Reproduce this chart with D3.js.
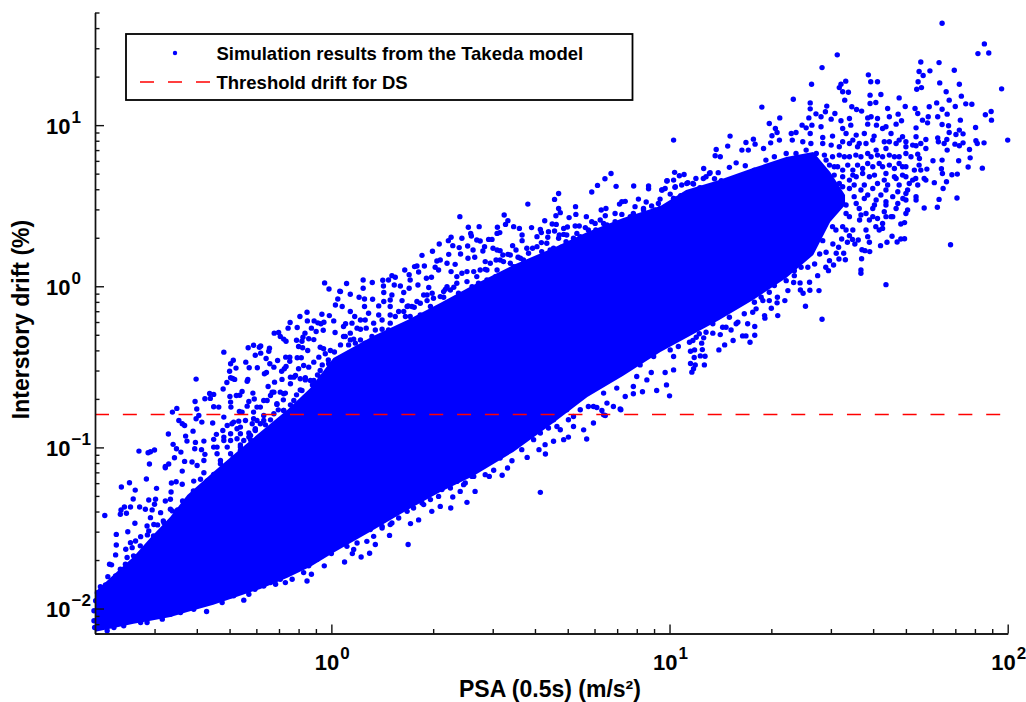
<!DOCTYPE html>
<html>
<head>
<meta charset="utf-8">
<script src="https://cdn.jsdelivr.net/npm/d3@7"></script>
<style>
  body { margin: 0; background: #fff; }
  text { font-family: "Liberation Sans", Arial, sans-serif; font-weight: bold; fill: #000; }
</style>
</head>
<body>
<svg id="chart"></svg>
<script>
// all values are log10 of the axis value
const thresholdDrift = 0.16;

// solid part of the cloud: log10 PSA with upper and lower log10 drift
const corePsa = [-0.698,-0.644,-0.585,-0.535,-0.476,-0.426,-0.349,-0.290,-0.210,-0.130,-0.062,0.006,0.124,0.225,0.322,0.420,0.538,0.656,0.757,0.863,0.973,1.049,1.147,1.247,1.345,1.425,1.475,1.519];
const coreUpper = [-1.896,-1.791,-1.679,-1.561,-1.431,-1.295,-1.152,-1.047,-0.904,-0.767,-0.631,-0.445,-0.308,-0.209,-0.104,0.008,0.132,0.238,0.337,0.424,0.498,0.597,0.659,0.734,0.802,0.833,0.709,0.566];
const coreLower = [-2.144,-2.120,-2.095,-2.076,-2.052,-2.021,-1.977,-1.934,-1.878,-1.809,-1.741,-1.654,-1.512,-1.388,-1.276,-1.177,-1.028,-0.848,-0.687,-0.556,-0.408,-0.321,-0.209,-0.085,0.051,0.194,0.399,0.504];

// separate dots, [log10 PSA, log10 drift]
const upperLeftDots = [[-.020,.021],[-.007,-.017],[.025,-.031],[.019,-.079],[.012,-.116],[-.072,-.161],[-.093,-.188],[-.028,-.174],[-.006,-.182],[-.071,-.215],[-.122,-.225],[-.051,-.215],[-.040,-.227],[-.031,-.233],[-.022,-.223],[.007,-.215],[-.101,-.256],[-.128,-.260],[-.059,-.260],[-.045,-.281],[-.024,-.273],[.011,-.287],[-.169,-.291],[-.156,-.287],[-.151,-.312],[-.141,-.328],[-.134,-.341],[-.078,-.291],[-.084,-.316],[-.103,-.335],[-.087,-.341],[-.067,-.326],[-.052,-.331],[-.033,-.378],[-.023,-.388],[-.097,-.374],[-.085,-.382],[-.070,-.399],[-.230,-.366],[-.246,-.382],[-.213,-.378],[-.209,-.370],[-.183,-.384],[-.185,-.403],[-.318,-.409],[-.209,-.415],[-.225,-.428],[-.193,-.448],[-.253,-.471],[-.290,-.459],[-.298,-.481],[-.282,-.508],[-.301,-.527],[-.243,-.506],[-.219,-.506],[-.182,-.481],[-.159,-.461],[-.135,-.440],[-.123,-.440],[-.101,-.444],[-.089,-.444],[-.123,-.465],[-.170,-.502],[-.198,-.543],[-.192,-.535],[-.139,-.512],[-.134,-.498],[-.147,-.527],[-.400,-.576],[-.247,-.578],[-.249,-.589],[-.292,-.572],[-.298,-.568],[-.286,-.578],[-.309,-.597],[-.168,-.595],[-.146,-.578],[-.187,-.622],[-.232,-.663],[-.264,-.653],[-.271,-.676],[-.281,-.678],[-.300,-.684],[-.320,-.638],[-.298,-.719],[-.360,-.665],[-.348,-.671],[-.358,-.696],[-.374,-.698],[-.403,-.715],[-.398,-.762],[-.348,-.748],[-.333,-.750],[-.297,-.750],[-.272,-.777],[-.244,-.715],[-.228,-.700],[-.249,-.744],[-.220,-.750],[-.170,-.657],[-.151,-.657],[-.136,-.663],[-.200,-.709],[-.180,-.678],[-.121,-.564],[-.106,-.554],[-.092,-.574],[-.077,-.568],[-.052,-.585],[-.033,-.564],[-.470,-.781],[-.457,-.758],[-.392,-.802],[-.400,-.822],[-.383,-.843],[-.351,-.849],[-.451,-.833],[-.441,-.853],[-.434,-.864],[-.482,-.917],[-.431,-.930],[-.468,-.981],[-.458,-1.008],[-.445,-1.029],[-.569,-1.023],[-.542,-1.033],[-.535,-1.027],[-.523,-1.016],[-.538,-1.103],[-.464,-1.064],[-.434,-1.087],[-.481,-1.103],[-.491,-1.118],[-.409,-.899],[-.427,-.961],[-.402,-.969],[-.377,-.961],[-.404,-1.008],[-.384,-1.014],[-.348,-.950],[-.340,-.919],[-.374,-1.043],[-.338,-1.039],[-.377,-1.081],[-.412,-1.091],[-.397,-1.112],[-.328,-1.081],[-.318,-.812],[-.289,-.843],[-.274,-.837],[-.264,-.781],[-.230,-.822],[-.220,-.833],[-.234,-.853],[-.210,-.853],[-.200,-.802],[-.161,-.733],[-.141,-.771],[-.321,-.895],[-.308,-.864],[-.294,-.853],[-.279,-.884],[-.269,-.915],[-.244,-.911],[-.225,-.884],[-.318,-.936],[-.298,-.957],[-.279,-.946],[-.259,-.957],[-.239,-.926],[-.348,-.998],[-.308,-.998],[-.269,-1.019],[-.244,-.998],[-.328,-1.101]];

const lowerLeftDots = [[-.621,-1.246],[-.597,-1.219],[-.580,-1.265],[-.547,-1.196],[-.517,-1.254],[-.473,-1.221],[-.459,-1.213],[-.441,-1.229],[-.407,-1.209],[-.387,-1.198],[-.377,-1.157],[-.348,-1.168],[-.441,-1.147],[-.491,-1.126],[-.586,-1.320],[-.540,-1.326],[-.520,-1.322],[-.474,-1.277],[-.491,-1.333],[-.476,-1.322],[-.612,-1.370],[-.622,-1.388],[-.624,-1.415],[-.594,-1.370],[-.567,-1.370],[-.606,-1.409],[-.670,-1.423],[-.550,-1.384],[-.530,-1.388],[-.523,-1.353],[-.535,-1.436],[-.581,-1.471],[-.545,-1.488],[-.505,-1.405],[-.476,-1.384],[-.602,-1.523],[-.636,-1.540],[-.540,-1.519],[-.525,-1.478],[-.495,-1.467],[-.564,-1.554],[-.579,-1.581],[-.636,-1.606],[-.594,-1.591],[-.608,-1.632],[-.638,-1.667],[-.589,-1.622],[-.545,-1.622],[-.656,-1.725],[-.650,-1.729],[-.604,-1.683],[-.575,-1.679],[-.609,-1.725],[-.624,-1.756],[-.661,-1.802],[-.638,-1.798],[-.589,-1.725],[-.663,-2.138],[-.500,-2.066],[-.369,-2.018],[-.259,-1.948],[-.226,-1.880],[-.136,-1.839],[-.072,-1.829],[-.059,-1.787],[-.021,-1.735],[0,-1.659],[-.082,-1.777],[-.244,-1.911],[-.323,-1.963],[-.446,-2.025],[-.165,-1.849],[-.116,-1.818],[-.702,-2.076],[-.702,-2.014],[-.697,-1.952],[-.700,-2.118]];

const middleUpperDots = [[.380,.432],[.581,.510],[.672,.576],[.660,.539],[.672,.483],[.664,.438],[.677,.457],[.722,.494],[.723,.446],[.770,.585],[.787,.626],[.842,.620],[.894,.622],[.938,.622],[.938,.605],[.977,.597],[.992,.653],[1.017,.618],[1.002,.572],[.908,.541],[.931,.523],[.869,.527],[.859,.525],[.852,.510],[.812,.483],[.798,.473],[.947,.498],[.967,.514],[1.012,.545],[.898,.494],[.923,.483],[.957,.473],[.839,.452],[.859,.446],[.810,.438],[.754,.432],[.703,.426],[.511,.442],[.522,.407],[.515,.384],[.539,.370],[.556,.359],[.592,.364],[.437,.370],[.405,.366],[.491,.366],[.631,.407],[.653,.386],[.665,.384],[.660,.343],[.687,.359],[.698,.368],[.721,.374],[.733,.374],[.751,.364],[.782,.349],[.770,.401],[.795,.411],[.780,.390],[.815,.380],[.834,.359],[.864,.370],[.618,.353],[.621,.333],[.642,.339],[.674,.318],[.687,.322],[.608,.308],[.621,.271],[.640,.304],[.564,.318],[.564,.283],[.490,.328],[.498,.333],[.412,.328],[.414,.312],[.386,.298],[.354,.304],[.346,.283],[.319,.262],[.359,.252],[.378,.240],[.403,.250],[.419,.225],[.430,.287],[.440,.281],[.465,.291],[.475,.291],[.453,.246],[.448,.219],[.299,.217],[.268,.192],[.347,.198],[.382,.200],[.404,.174],[.424,.180],[.478,.236],[.490,.225],[.499,.221],[.507,.194],[.522,.198],[.536,.252],[.546,.225],[.552,.180],[.583,.205],[.595,.236],[.622,.215],[.647,.225],[.694,.277],[.716,.298],[.680,.242],[.657,.236],[.736,.308],[.322,.163],[.312,.157],[.342,.143],[.366,.136],[.275,.126],[.253,.126],[.246,.122],[.217,.101],[.230,.072],[.258,.089],[.307,.118],[.317,.101],[.354,.091],[.386,.081],[.421,.091],[.455,.153],[.455,.105],[.487,.163],[.509,.153],[.539,.122],[.568,.163],[.179,.066],[.189,.056],[.152,.037],[.169,.039],[.094,.039],[.121,.023],[.045,.017],[.094,-.012],[.154,.002],[.186,.008],[.204,.002],[.233,.039],[.281,.050],[.296,.056],[.155,-.039],[.056,-.050],[.027,-.033],[.082,-.068],[.098,-.079],[.122,-.081],[.214,-.039],[.230,-.012],[.256,.008],[.288,-.008],[.337,-.019],[.362,-.006],[.179,-.054],[.174,-.085],[.209,-.089],[.227,-.122],[.245,-.130],[.155,-.095],[.140,-.122],[.098,-.126],[.056,-.157],[.069,-.188],[.086,-.209],[.100,-.209],[.110,-.167],[.140,-.178],[.174,-.126],[.189,-.188],[.219,-.188],[.233,-.188],[.283,-.089],[.302,-.074],[.332,-.068],[.032,-.126],[.042,-.233],[.061,-.229],[.086,-.267],[.103,-.260],[.130,-.271],[.150,-.267],[.174,-.229],[.229,-.250],[.263,-.178],[.293,-.126],[.036,-.312],[.066,-.328],[1.012,.907],[.827,.700],[.809,.667],[1.015,.707],[1.043,.694],[1.029,.686],[.993,.655],[1.012,.659],[1.120,.705],[1.051,.638],[1.071,.634],[1.036,.628],[1.016,.614],[.987,.607],[.978,.597],[1.100,.669],[1.133,.667],[1.153,.655],[1.090,.612],[1.033,.562],[1.059,.576],[.972,.541],[1.012,.545],[1.046,.535],[1.115,.576],[1.079,.552]];

const middleLowerDots = [[1.000,-.680],[.991,-.612],[.962,-.647],[.920,-.655],[.893,-.667],[.869,-.684],[.854,-.762],[.800,-.771],[.785,-.752],[.987,-.535],[1.012,-.519],[.946,-.535],[.933,-.581],[.903,-.560],[.893,-.622],[.844,-.632],[.805,-.663],[.760,-.746],[.227,-1.603],[.618,-1.279],[.113,-1.657],[.088,-1.680],[.039,-1.711],[.062,-1.659],[.172,-1.546],[.234,-1.473],[.258,-1.450],[.353,-1.376],[.401,-1.341],[.425,-1.273],[.505,-1.173],[.467,-1.180],[.521,-1.128],[.534,-1.083],[.579,-1.062],[.633,-1.041],[.563,-1.014],[.614,-1.014],[.701,-.936],[.755,-.948],[.775,-.849],[.746,-.891],[.856,-.766],[.810,-.802],[.687,-.952],[.657,-.962],[.632,-.983],[.480,-1.142],[.455,-1.169],[.381,-1.273],[.359,-1.308],[.322,-1.366],[.297,-1.397],[.130,-1.603],[.066,-1.634],[.174,-1.479],[.150,-1.500],[.273,-1.355],[.421,-1.180],[.391,-1.231],[.598,-.952],[.677,-.890],[.716,-.870]];

const upperRightDots = [[1.806,1.632],[1.931,1.504],[1.912,1.444],[1.944,1.448],[1.496,1.436],[1.451,1.357],[1.743,1.392],[1.797,1.388],[1.842,1.341],[1.738,1.333],[1.750,1.308],[1.770,1.337],[1.588,1.312],[1.595,1.269],[1.615,1.269],[1.735,1.269],[1.799,1.262],[1.857,1.254],[1.420,1.254],[1.521,1.273],[1.507,1.254],[1.502,1.233],[1.529,1.204],[1.512,1.207],[1.731,1.223],[1.745,1.233],[1.982,1.225],[1.818,1.207],[1.625,1.190],[1.593,1.186],[1.863,1.180],[1.827,1.155],[1.679,1.169],[1.366,1.161],[1.518,1.155],[1.416,1.138],[1.876,1.132],[1.894,1.130],[1.845,1.116],[1.790,1.138],[1.768,1.114],[1.806,1.099],[1.273,1.112],[1.593,1.134],[1.610,1.140],[1.697,1.116],[1.645,1.103],[1.726,1.103],[1.539,1.114],[1.553,1.097],[1.568,1.087],[1.465,1.118],[1.416,1.101],[1.461,1.083],[1.489,1.072],[1.433,1.070],[1.951,1.085],[1.934,1.064],[1.952,1.031],[1.821,1.068],[1.860,1.031],[1.793,1.052],[1.765,1.052],[1.748,1.031],[1.734,1.072],[1.676,1.068],[1.650,1.052],[1.596,1.052],[1.615,1.041],[1.586,1.045],[1.326,1.045],[1.412,1.045],[1.448,1.052],[1.478,1.037],[1.507,1.027],[1.532,1.041],[1.295,1.010],[1.421,1.000],[1.392,1.000],[1.448,.990],[1.806,1.004],[1.825,.996],[1.905,.985],[1.763,1.014],[1.729,.983],[1.686,1.027],[1.670,1.006],[1.640,.990],[1.612,1.000],[1.586,1.006],[1.536,1.000],[1.512,.979],[1.482,.932],[1.179,.932],[1.313,.979],[1.318,.954],[1.374,.954],[1.360,.948],[1.416,.948],[1.404,.983],[1.303,.934],[1.248,.913],[1.226,.892],[1.172,.870],[1.138,.849],[1.135,.810],[1.150,.804],[1.253,.882],[1.214,.845],[1.233,.845],[1.278,.855],[1.325,.907],[1.299,.890],[1.363,.907],[1.394,.897],[1.418,.886],[1.453,.923],[1.857,.969],[1.868,.946],[1.847,.942],[1.827,.954],[1.793,.921],[1.758,.911],[1.729,.928],[1.689,.928],[1.655,.948],[1.630,.979],[1.605,.932],[1.576,.948],[1.552,.938],[1.522,.948],[1.906,.903],[1.930,.890],[1.910,.886],[2.000,.907],[1.844,.882],[1.857,.872],[1.868,.890],[1.820,.911],[1.812,.886],[1.795,.897],[1.821,.845],[1.887,.849],[1.758,.855],[1.729,.872],[1.699,.866],[1.670,.886],[1.635,.897],[1.640,.855],[1.611,.845],[1.581,.886],[1.556,.866],[1.532,.886],[1.502,.866],[1.478,.876],[1.734,.820],[1.889,.797],[1.779,.779],[1.806,.783],[1.855,.779],[1.738,.752],[1.699,.824],[1.665,.804],[1.630,.804],[1.596,.804],[1.566,.804],[1.532,.804],[1.502,.814],[1.883,.740],[1.925,.733],[1.804,.729],[1.807,.700],[1.761,.727],[1.724,.721],[1.689,.742],[1.665,.731],[1.630,.742],[1.601,.742],[1.571,.731],[1.542,.721],[1.512,.721],[1.835,.692],[1.851,.696],[1.728,.669],[1.753,.669],[1.783,.643],[1.819,.649],[1.699,.680],[1.670,.669],[1.635,.659],[1.591,.680],[1.552,.680],[1.809,.607],[1.704,.597],[1.675,.587],[1.640,.597],[1.601,.607],[1.566,.597],[1.532,.607],[1.797,.539],[1.850,.548],[1.729,.556],[1.690,.545],[1.640,.525],[1.611,.535],[1.576,.545],[1.792,.490],[1.753,.486],[1.704,.473],[1.670,.483],[1.635,.463],[1.601,.483],[1.699,.452],[1.695,.395],[1.684,.386],[1.630,.359],[1.620,.349],[1.591,.411],[1.562,.411],[1.512,.370],[1.492,.349],[1.542,.349],[1.472,.432],[1.492,.494],[1.522,.452],[1.453,.535],[1.463,.783],[1.487,.742],[1.473,.659],[1.463,.597],[1.502,.638],[1.532,.659],[1.487,.556],[1.512,.514],[1.552,.514],[1.453,.452],[1.581,.452],[1.615,.421],[1.655,.432],[1.101,.731],[1.118,.700],[1.144,.705],[1.177,.738],[1.197,.766],[1.224,.748],[1.251,.721],[1.285,.783],[1.310,.804],[1.345,.824],[1.374,.824],[1.404,.845],[1.434,.824],[1.054,.643],[1.078,.669],[1.069,.638],[1.108,.680],[1.088,.597],[1.138,.576],[1.177,.659],[1.216,.659],[1.256,.700],[1.295,.742],[1.330,.762],[1.363,.773],[1.398,.793],[1.433,.783]];

// rows of dots in the loose right end of the cloud
const rightCloudDots = [[1.453,.886],[1.512,.897],[1.542,.907],[1.561,.886],[1.601,.907],[1.650,.897],[1.679,.907],[1.699,.897],[1.719,.876],[1.743,.886],[1.458,.814],[1.482,.804],[1.517,.804],[1.551,.814],[1.586,.824],[1.615,.814],[1.650,.814],[1.679,.804],[1.714,.804],[1.739,.793],[1.473,.752],[1.497,.742],[1.527,.752],[1.556,.752],[1.586,.762],[1.620,.762],[1.650,.752],[1.679,.762],[1.699,.742],[1.743,.721],[1.487,.690],[1.512,.680],[1.542,.690],[1.571,.700],[1.606,.690],[1.640,.700],[1.665,.680],[1.689,.690],[1.719,.659],[1.512,.618],[1.546,.628],[1.576,.628],[1.615,.638],[1.645,.628],[1.679,.628],[1.709,.638],[1.734,.628],[1.758,.659],[1.507,.566],[1.546,.556],[1.586,.566],[1.625,.566],[1.660,.556],[1.699,.576],[1.729,.535],[1.522,.504],[1.561,.483],[1.606,.504],[1.640,.504],[1.675,.514],[1.699,.535],[1.532,.432],[1.566,.442],[1.601,.432],[1.640,.432],[1.660,.432],[1.482,.370],[1.522,.349],[1.581,.349],[1.610,.370],[1.630,.390]];

const lowerRightDots = [[1.831,.258],[1.695,.295],[1.684,.293],[1.673,.275],[1.658,.310],[1.643,.273],[1.624,.252],[1.592,.215],[1.578,.221],[1.569,.227],[1.591,.273],[1.586,.308],[1.568,.171],[1.566,.101],[1.566,.081],[1.640,.010],[1.520,.165],[1.501,.169],[1.515,.205],[1.493,.205],[1.500,.242],[1.526,.273],[1.548,.262],[1.558,.287],[1.541,.291],[1.509,.293],[1.485,.132],[1.470,.097],[1.462,.118],[1.438,.066],[1.414,.025],[1.415,-.025],[1.442,-.027],[1.395,-.043],[1.387,-.023],[1.402,-.124],[1.451,-.205],[1.367,.023],[1.386,.021],[1.369,.066],[1.341,-.089],[1.320,-.182],[1.301,-.136],[1.318,-.103],[1.281,-.182],[1.282,-.198],[1.252,-.250],[1.252,-.304],[1.238,-.347],[1.226,-.308],[1.216,-.308],[1.188,-.337],[1.163,-.364],[1.146,-.395],[1.182,-.271],[1.105,-.434],[1.103,-.488],[1.091,-.432],[1.097,-.393],[1.095,-.353],[1.073,-.442],[1.076,-.488],[1.062,-.479],[1.071,-.512],[1.066,-.533],[1.062,-.403],[1.074,-.395],[1.319,-.068],[1.350,-.027],[1.295,-.089],[1.256,-.140],[1.246,-.161],[1.231,-.233],[1.197,-.233],[1.167,-.254],[1.150,-.300],[1.128,-.291],[1.101,-.320],[1.059,-.347],[1.079,-.316],[1.276,-.089],[1.108,-.285],[1.157,-.254],[1.177,-.192],[1.202,-.223],[1.221,-.171],[1.251,-.099],[1.271,-.068],[1.295,-.037],[1.310,.004],[1.345,.035],[1.369,.097],[1.389,.118],[1.409,.118],[1.429,.138],[1.444,.200],[1.463,.211],[1.473,.159],[1.483,.262],[1.453,.283],[1.532,.314],[1.069,-.337],[1.088,-.295],[1.128,-.233]];

// dots hugging the edge of the solid part
const upperEdgeDots = [[-.514,-1.481],[-.497,-1.456],[-.470,-1.394],[-.455,-1.388],[-.440,-1.332],[-.417,-1.313],[-.408,-1.270],[-.387,-1.251],[-.367,-1.208],[-.337,-1.189],[-.307,-1.146],[-.544,-1.543],[-.526,-1.549],[-.565,-1.611],[-.544,-1.636],[-.585,-1.673],[-.571,-1.685],[-.600,-1.735],[-.615,-1.766],[-.630,-1.797],[-.644,-1.822],[-.668,-1.853],[-.683,-1.865],[-.692,-1.902],[-.692,-1.946],[-.290,-1.065],[-.269,-.985],[-.239,-.953],[-.225,-.891],[-.195,-.860],[-.180,-.829],[-.157,-.767],[-.142,-.705],[-.121,-.736],[-.103,-.674],[-.092,-.643],[-.077,-.581],[-.056,-.612],[-.041,-.550],[-.027,-.488],[-.009,-.457],[.009,-.408],[.027,-.364],[.056,-.333],[.041,-.312],[.051,-.364],[.071,-.353],[.086,-.333],[.100,-.353],[.120,-.312],[.135,-.333],[.155,-.312],[.169,-.271],[.199,-.281],[.214,-.250],[.238,-.250],[.263,-.229],[.278,-.229],[.288,-.167],[.302,-.167],[.322,-.136],[.342,-.105],[.361,-.085],[.376,-.043],[.396,-.064],[.416,-.002],[.435,.019],[.460,.039],[.485,.060],[.509,.060],[.529,.081],[.549,.122],[.573,.143],[.598,.132],[.618,.153],[.637,.174],[.657,.184],[.706,.236],[.726,.256],[.751,.277],[.785,.298],[.815,.349],[.844,.390],[.893,.452],[.923,.473],[.972,.483],[.214,-.157],[.238,-.126],[.263,-.105],[.283,-.054],[.322,-.064],[.352,-.023],[.371,.019],[.401,.029],[.430,.060],[.460,.101],[.490,.101],[.529,.143],[.559,.174],[-.190,-.709],[-.175,-.657],[-.161,-.729],[-.141,-.667],[-.121,-.605],[-.111,-.564],[-.097,-.512],[-.082,-.492],[-.067,-.502],[-.052,-.471],[-.037,-.440],[-.018,-.419],[-.003,-.399],[-.210,-.750],[-.230,-.781],[-.254,-.833],[-.269,-.874],[-.298,-.915],[-.318,-.957],[-.338,-.998],[-.225,-.895],[-.200,-.833],[-.170,-.791],[-.141,-.771],[-.111,-.709],[-.087,-.647],[-.062,-.585],[-.033,-.523],[-.008,-.481],[-.244,-.936],[-.269,-.998],[-.298,-1.039],[.036,-.250],[.056,-.291],[.076,-.260],[.125,-.229],[.150,-.209],[.174,-.178],[.199,-.157],[.224,-.126],[.253,-.095],[.273,-.054],[.298,-.043],[.332,-.033],[.342,-.002],[.371,.060],[.401,.091],[.440,.101],[.470,.143],[.499,.163],[.529,.194],[.578,.236],[.608,.246],[.637,.267],[.672,.298],[.696,.318],[.726,.328],[.760,.349],[.805,.390],[.839,.401],[.884,.432],[.913,.411],[.952,.452],[.992,.463],[1.021,.494]];

const lowerEdgeDots = [[.046,-1.614],[.076,-1.593],[.105,-1.583],[.125,-1.552],[.150,-1.490],[.179,-1.469],[.199,-1.438],[.224,-1.397],[.243,-1.376],[.268,-1.345],[.293,-1.324],[.317,-1.304],[.327,-1.262],[.352,-1.252],[.371,-1.211],[.396,-1.221],[.416,-1.180],[.450,-1.097],[.480,-1.056],[.499,-1.066],[.509,-1.014],[.534,-.983],[.563,-.963],[.598,-.890],[.618,-.911],[.642,-.880],[.667,-.870],[.701,-.828],[.716,-.808],[.805,-.798],[.834,-.746],[-.033,-1.653],[-.092,-1.746],[-.131,-1.787],[-.180,-1.839],[-.220,-1.849],[-.289,-1.921],[-.348,-1.952],[-.407,-2.004],[-.476,-2.035],[-.545,-2.087],[-.614,-2.107],[.716,-.684],[.755,-.663],[.795,-.581],[.834,-.550],[.874,-.498],[.913,-.488],[.953,-.436],[1.002,-.395],[1.026,-.374],[1.012,-.436],[.972,-.374],[.056,-1.552],[.086,-1.531],[.115,-1.510],[.155,-1.448],[.189,-1.407],[.214,-1.366],[.248,-1.324],[.283,-1.293],[.312,-1.262],[.342,-1.221],[.366,-1.169],[.401,-1.128],[.440,-1.076],[.470,-1.014],[.499,-.973],[.539,-.932],[.578,-.880],[.618,-.849],[.657,-.828],[.696,-.766],[.736,-.766],[.775,-.746],[.815,-.725],[-.042,-1.694],[-.067,-1.735],[-.111,-1.766],[-.151,-1.818],[-.200,-1.860],[-.249,-1.890],[-.298,-1.921],[-.367,-1.963],[-.436,-2.004],[-.505,-2.045],[-.564,-2.087],[-.643,-2.118]];

const xMajor = [1, 10, 100];
const xExponents = ["0", "1", "2"];
const xMinor = [0.2,0.3,0.4,0.5,0.6,0.7,0.8,0.9,2,3,4,5,6,7,8,9,20,30,40,50,60,70,80,90];
const yMajor = [0.01, 0.1, 1, 10];
const yExponents = ["\u22122", "\u22121", "0", "1"];
const yMinor = [0.007,0.008,0.009,0.02,0.03,0.04,0.05,0.06,0.07,0.08,0.09,0.2,0.3,0.4,0.5,0.6,0.7,0.8,0.9,2,3,4,5,6,7,8,9,20,30,40,50];

const margin = { top: 12.5, right: 18.3, bottom: 68.5, left: 95 },
  width = 1026 - margin.left - margin.right,
  height = 702 - margin.top - margin.bottom;

const root = d3.select("#chart").attr("width", 1026).attr("height", 702);
const svg = root.append("g").attr("transform", `translate(${margin.left},${margin.top})`);

const x = d3.scaleLog().domain([0.2, 100]).range([0, width]);
const y = d3.scaleLog().domain([0.007, 50]).range([height, 0]);

const core = corePsa.map((d, i) => ({ psa: d, hi: coreUpper[i], lo: coreLower[i] }));
svg.append("path")
  .datum(core)
  .attr("fill", "#0000ff")
  .attr("d", d3.area()
    .x((d) => x(10 ** d.psa))
    .y0((d) => y(10 ** d.lo))
    .y1((d) => y(10 ** d.hi)));

const dots = [].concat(upperLeftDots, lowerLeftDots, middleUpperDots, middleLowerDots, upperRightDots, rightCloudDots, lowerRightDots, upperEdgeDots, lowerEdgeDots);
svg.selectAll(".dot")
  .data(dots)
  .enter()
  .append("circle")
  .attr("class", "dot")
  .attr("cx", (d) => x(10 ** d[0]))
  .attr("cy", (d) => y(10 ** d[1]))
  .attr("r", 2.7)
  .attr("fill", "#0000ff");

svg.append("line")
  .attr("x1", 0)
  .attr("x2", width)
  .attr("y1", y(thresholdDrift))
  .attr("y2", y(thresholdDrift))
  .attr("stroke", "#ff0000")
  .attr("stroke-width", 1.5)
  .attr("stroke-dasharray", "14 13.85");

// axes: ticks point inside, labels are drawn by hand for the superscripts
function styleAxis(g) {
  g.selectAll("path,line").attr("stroke", "#111").attr("stroke-width", 1.4);
  g.selectAll("text").remove();
}
svg.append("g").call(d3.axisLeft(y).tickValues(yMinor).tickSize(-4.5).tickSizeOuter(0)).call(styleAxis);
svg.append("g").call(d3.axisLeft(y).tickValues(yMajor).tickSize(-9).tickSizeOuter(0)).call(styleAxis);
svg.append("g").attr("transform", `translate(0,${height})`)
  .call(d3.axisBottom(x).tickValues(xMinor).tickSize(-4.5).tickSizeOuter(0)).call(styleAxis);
svg.append("g").attr("transform", `translate(0,${height})`)
  .call(d3.axisBottom(x).tickValues(xMajor).tickSize(-9).tickSizeOuter(0)).call(styleAxis);

function powerLabel(px, py, exp) {
  const t = svg.append("text").attr("x", px).attr("y", py).attr("font-size", 22);
  t.append("tspan").text("10");
  t.append("tspan").attr("dx", 1).attr("dy", -11).attr("font-size", 17).text(exp);
}
xMajor.forEach((d, i) => powerLabel(x(d) - 16.5, height + 36.5, xExponents[i]));
yMajor.forEach((d, i) => powerLabel(-49, y(d) + 8.5, yExponents[i]));

root.append("text")
  .attr("x", 550)
  .attr("y", 697)
  .attr("text-anchor", "middle")
  .attr("font-size", 23)
  .text("PSA (0.5s) (m/s\u00b2)");

root.append("text")
  .attr("transform", "translate(29,319.5) rotate(-90)")
  .attr("text-anchor", "middle")
  .attr("font-size", 23)
  .text("Interstory drift (%)");

const legend = root.append("g");
legend.append("rect")
  .attr("x", 126)
  .attr("y", 34)
  .attr("width", 506.5)
  .attr("height", 66)
  .attr("fill", "#fff")
  .attr("stroke", "#000")
  .attr("stroke-width", 1.8);
legend.append("circle").attr("cx", 175).attr("cy", 53).attr("r", 2.2).attr("fill", "#0000ff");
legend.append("line")
  .attr("x1", 140)
  .attr("x2", 210)
  .attr("y1", 82)
  .attr("y2", 82)
  .attr("stroke", "#ff0000")
  .attr("stroke-width", 1.5)
  .attr("stroke-dasharray", "14 14");
legend.append("text").attr("x", 216.5).attr("y", 60).attr("font-size", 18.5).text("Simulation results from the Takeda model");
legend.append("text").attr("x", 216.5).attr("y", 88.5).attr("font-size", 18.5).text("Threshold drift for DS");
</script>
</body>
</html>
